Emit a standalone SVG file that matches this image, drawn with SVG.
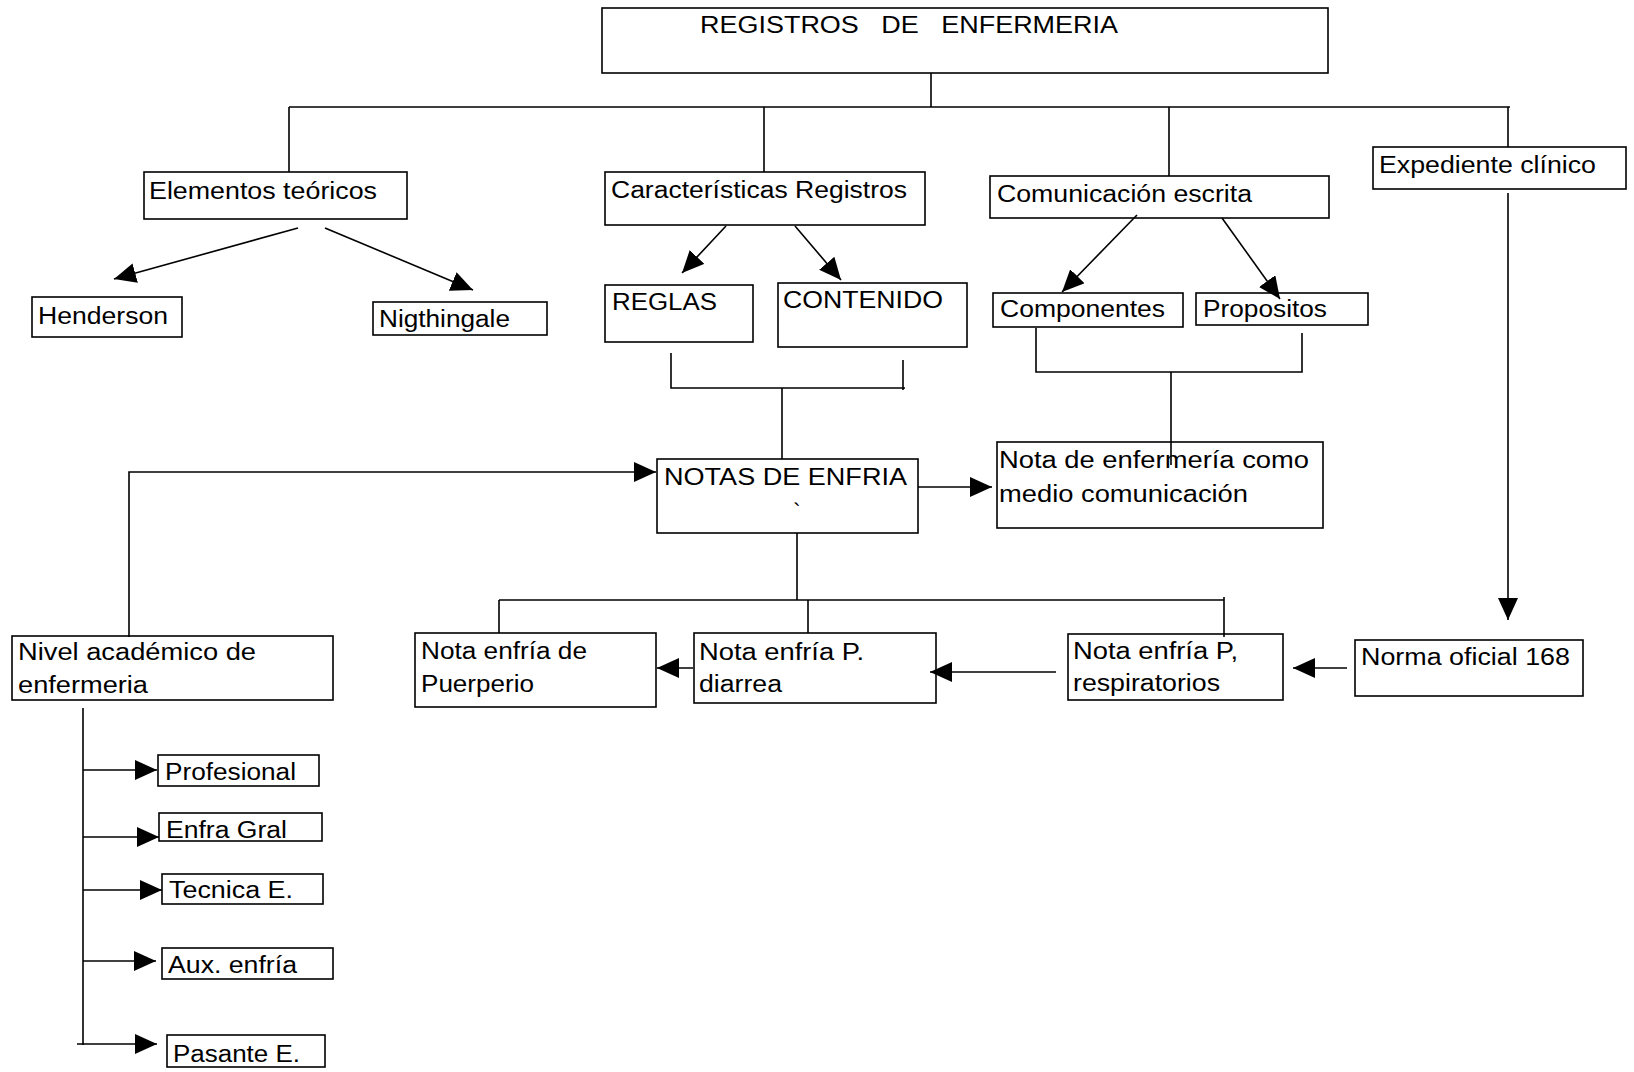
<svg xmlns="http://www.w3.org/2000/svg" width="1634" height="1072" viewBox="0 0 1634 1072">
<style>
.box{fill:#fff;stroke:#000;stroke-width:1.6}
.t{font-family:"Liberation Sans",Arial,sans-serif;font-size:23px;fill:#000}
.c{fill:none;stroke:#000;stroke-width:1.6}
</style>
<defs>
<marker id="ah" markerUnits="userSpaceOnUse" markerWidth="24" markerHeight="20" refX="22" refY="10" orient="auto">
<path d="M0,0 L22,10 L0,20 z" fill="#000"/>
</marker>
</defs>
<rect width="1634" height="1072" fill="#fff"/>
<g id="nodes">
<g id="n-title"><rect class="box" x="602" y="8" width="726" height="65"/><text class="t" x="700" y="33" textLength="418" lengthAdjust="spacingAndGlyphs" xml:space="preserve" style="white-space:pre">REGISTROS   DE   ENFERMERIA</text></g>
<g id="n-elementos"><rect class="box" x="144" y="172" width="263" height="47"/><text class="t" x="149" y="199" textLength="228" lengthAdjust="spacingAndGlyphs">Elementos teóricos</text></g>
<g id="n-henderson"><rect class="box" x="32" y="297" width="150" height="40"/><text class="t" x="38" y="324" textLength="130" lengthAdjust="spacingAndGlyphs">Henderson</text></g>
<g id="n-nigthingale"><rect class="box" x="373" y="302" width="174" height="33"/><text class="t" x="379" y="327" textLength="131" lengthAdjust="spacingAndGlyphs">Nigthingale</text></g>
<g id="n-caracteristicas"><rect class="box" x="605" y="172" width="320" height="53"/><text class="t" x="611" y="198" textLength="296" lengthAdjust="spacingAndGlyphs">Características Registros</text></g>
<g id="n-reglas"><rect class="box" x="605" y="285" width="148" height="57"/><text class="t" x="612" y="310" textLength="105" lengthAdjust="spacingAndGlyphs">REGLAS</text></g>
<g id="n-contenido"><rect class="box" x="778" y="283" width="189" height="64"/><text class="t" x="783" y="308" textLength="160" lengthAdjust="spacingAndGlyphs">CONTENIDO</text></g>
<g id="n-comunicacion"><rect class="box" x="990" y="176" width="339" height="42"/><text class="t" x="997" y="202" textLength="255" lengthAdjust="spacingAndGlyphs">Comunicación escrita</text></g>
<g id="n-componentes"><rect class="box" x="993" y="293" width="190" height="34"/><text class="t" x="1000" y="317" textLength="165" lengthAdjust="spacingAndGlyphs">Componentes</text></g>
<g id="n-propositos"><rect class="box" x="1196" y="293" width="172" height="32"/><text class="t" x="1203" y="317" textLength="124" lengthAdjust="spacingAndGlyphs">Propositos</text></g>
<g id="n-expediente"><rect class="box" x="1373" y="147" width="253" height="42"/><text class="t" x="1379" y="173" textLength="217" lengthAdjust="spacingAndGlyphs">Expediente clínico</text></g>
<g id="n-notas"><rect class="box" x="657" y="459" width="261" height="74"/><text class="t" x="664" y="485" textLength="243" lengthAdjust="spacingAndGlyphs">NOTAS DE ENFRIA</text><text class="t" x="793" y="520">`</text></g>
<g id="n-notaenf"><rect class="box" x="997" y="442" width="326" height="86"/><text class="t" x="999" y="468" textLength="310" lengthAdjust="spacingAndGlyphs">Nota de enfermería como</text><text class="t" x="999" y="502" textLength="249" lengthAdjust="spacingAndGlyphs">medio comunicación</text></g>
<g id="n-nivel"><rect class="box" x="12" y="636" width="321" height="64"/><text class="t" x="18" y="660" textLength="238" lengthAdjust="spacingAndGlyphs">Nivel académico de</text><text class="t" x="18" y="693" textLength="130" lengthAdjust="spacingAndGlyphs">enfermeria</text></g>
<g id="n-puerperio"><rect class="box" x="415" y="633" width="241" height="74"/><text class="t" x="421" y="659" textLength="166" lengthAdjust="spacingAndGlyphs">Nota enfría de</text><text class="t" x="421" y="692" textLength="113" lengthAdjust="spacingAndGlyphs">Puerperio</text></g>
<g id="n-diarrea"><rect class="box" x="694" y="633" width="242" height="70"/><text class="t" x="699" y="660" textLength="165" lengthAdjust="spacingAndGlyphs">Nota enfría P.</text><text class="t" x="699" y="692" textLength="83" lengthAdjust="spacingAndGlyphs">diarrea</text></g>
<g id="n-respiratorios"><rect class="box" x="1068" y="634" width="215" height="66"/><text class="t" x="1073" y="659" textLength="165" lengthAdjust="spacingAndGlyphs">Nota enfría P,</text><text class="t" x="1073" y="691" textLength="147" lengthAdjust="spacingAndGlyphs">respiratorios</text></g>
<g id="n-norma"><rect class="box" x="1355" y="640" width="228" height="56"/><text class="t" x="1361" y="665" textLength="209" lengthAdjust="spacingAndGlyphs">Norma oficial 168</text></g>
<g id="n-profesional"><rect class="box" x="158" y="755" width="161" height="31"/><text class="t" x="165" y="780" textLength="131" lengthAdjust="spacingAndGlyphs">Profesional</text></g>
<g id="n-enfra"><rect class="box" x="159" y="813" width="163" height="28"/><text class="t" x="166" y="838" textLength="121" lengthAdjust="spacingAndGlyphs">Enfra Gral</text></g>
<g id="n-tecnica"><rect class="box" x="162" y="874" width="161" height="30"/><text class="t" x="169" y="898" textLength="124" lengthAdjust="spacingAndGlyphs">Tecnica E.</text></g>
<g id="n-aux"><rect class="box" x="162" y="948" width="171" height="31"/><text class="t" x="168" y="973" textLength="129" lengthAdjust="spacingAndGlyphs">Aux. enfría</text></g>
<g id="n-pasante"><rect class="box" x="167" y="1035" width="158" height="32"/><text class="t" x="173" y="1062" textLength="127" lengthAdjust="spacingAndGlyphs">Pasante E.</text></g>
</g>
<g id="connectors">
<path class="c" d="M931,73 V107 M289,107 H1510 M289,107 V172 M764,107 V172 M1169,107 V176 M1508,107 V147"/>
<path class="c" d="M298,228 L114,279" marker-end="url(#ah)"/>
<path class="c" d="M325,228 L473,290" marker-end="url(#ah)"/>
<path class="c" d="M726,226 L682,273" marker-end="url(#ah)"/>
<path class="c" d="M795,226 L841,280" marker-end="url(#ah)"/>
<path class="c" d="M1137,215 L1062,292" marker-end="url(#ah)"/>
<path class="c" d="M1222,218 L1280,299" marker-end="url(#ah)"/>
<path class="c" d="M671,353 V388 H905 M903,360 V390 M782,388 V459"/>
<path class="c" d="M1036,328 V372 H1302 V333 M1171,372 V465"/>
<path class="c" d="M918,487 H992" marker-end="url(#ah)"/>
<path class="c" d="M129,637 V472 H656" marker-end="url(#ah)"/>
<path class="c" d="M797,533 V600 M499,600 H1224 M499,600 V633 M808,600 V633 M1224,597 V637"/>
<path class="c" d="M1508,193 V620" marker-end="url(#ah)"/>
<path class="c" d="M1347,668 H1293" marker-end="url(#ah)"/>
<path class="c" d="M1056,672 H930" marker-end="url(#ah)"/>
<path class="c" d="M693,668 H657" marker-end="url(#ah)"/>
<path class="c" d="M83,708 V1045"/>
<path class="c" d="M83,770 H157" marker-end="url(#ah)"/>
<path class="c" d="M83,837 H159" marker-end="url(#ah)"/>
<path class="c" d="M83,890 H162" marker-end="url(#ah)"/>
<path class="c" d="M83,961 H156" marker-end="url(#ah)"/>
<path class="c" d="M77,1044 H157" marker-end="url(#ah)"/>
</g>
</svg>
